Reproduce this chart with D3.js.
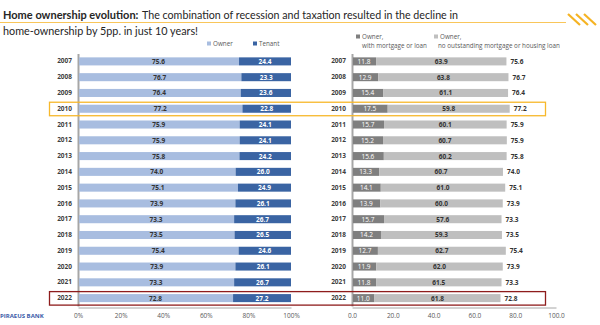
<!DOCTYPE html>
<html><head><meta charset="utf-8">
<script src="https://cdn.jsdelivr.net/npm/d3@7"></script>
<style>
html,body{margin:0;padding:0;background:#fff;}
svg{display:block;font-family:Lato, "Open Sans", sans-serif;}
</style></head>
<body><svg id="c" width="600" height="325"></svg>
<script>
const years = ["2007","2008","2009","2010","2011","2012","2013","2014","2015","2016","2017","2018","2019","2020","2021","2022"];
const owner = [75.6,76.7,76.4,77.2,75.9,75.9,75.8,74.0,75.1,73.9,73.3,73.5,75.4,73.9,73.3,72.8];
const tenant = [24.4,23.3,23.6,22.8,24.1,24.1,24.2,26.0,24.9,26.1,26.7,26.5,24.6,26.1,26.7,27.2];
const withMortgage = [11.8,12.9,15.4,17.5,15.7,15.2,15.6,13.3,14.1,13.9,15.7,14.2,12.7,11.9,11.8,11.0];
const noMortgage = [63.9,63.8,61.1,59.8,60.1,60.7,60.2,60.7,61.0,60.0,57.6,59.3,62.7,62.0,61.5,61.8];
const ownerTotal = [75.6,76.7,76.4,77.2,75.9,75.9,75.8,74.0,75.1,73.9,73.3,73.5,75.4,73.9,73.3,72.8];
const leftTicks = [0,20,40,60,80,100];
const rightTicks = [0,20,40,60,80,100];
const highlights = [{year:"2010", color:"#F7B82B"},{year:"2022", color:"#8E1C1C"}];

const svg = d3.select("#c");
const C = {owner:"#A8BDE0", tenant:"#3A64A3", mort:"#7F7F7F", nomort:"#BFBFBF"};

// Title
svg.append("text").attr("x",3).attr("y",19).attr("font-size",11).attr("fill","#262626").attr("font-weight","bold")
  .text("Home ownership evolution:");
svg.append("text").attr("x",142).attr("y",19).attr("font-size",11.2).attr("fill","#262626")
  .attr("textLength",316).attr("lengthAdjust","spacingAndGlyphs").text("The combination of recession and taxation resulted in the decline in");
svg.append("text").attr("x",3).attr("y",35).attr("font-size",11.2).attr("fill","#262626")
  .attr("textLength",195).attr("lengthAdjust","spacingAndGlyphs")
  .text("home-ownership by 5pp. in just 10 years!");
svg.append("line").attr("x1",0).attr("x2",566).attr("y1",22.5).attr("y2",22.5).attr("stroke","#F9C65A").attr("stroke-width",1);
[0,1,2].forEach(i=>{
  svg.append("line").attr("x1",568+i*8).attr("y1",14).attr("x2",580+i*8).attr("y2",25)
    .attr("stroke","#F5B323").attr("stroke-width",2.2);
});

const y = d3.scaleBand().domain(years).range([53.5,306]).paddingInner(0.49).paddingOuter(0.245);
const xL = d3.scaleLinear().domain([0,100]).range([78,291]);
const xR = d3.scaleLinear().domain([0,100]).range([352,556]);

function axisStyle(g){
  g.select(".domain").attr("stroke","#A6A6A6");
  g.selectAll(".tick line").remove();
  g.selectAll(".tick text").attr("fill","#595959").attr("font-size",6.5).attr("font-family","'Open Sans', sans-serif");
}
svg.append("g").attr("transform","translate(0,307.5)")
  .call(d3.axisBottom(xL).tickValues(leftTicks).tickFormat(d=>d+"%").tickSize(0).tickPadding(6)).call(axisStyle);
svg.append("g").attr("transform","translate(0,307.5)")
  .call(d3.axisBottom(xR).tickValues(rightTicks).tickFormat(d3.format(".1f")).tickSize(0).tickPadding(6)).call(axisStyle);

function yearAxis(x){
  const g = svg.append("g").attr("transform",`translate(${x},0)`)
    .call(d3.axisLeft(y).tickSize(0).tickPadding(6));
  g.select(".domain").attr("stroke","#A6A6A6").attr("stroke-width",2);
  g.selectAll(".tick text").attr("fill","#404040").attr("font-size",6.5).attr("font-weight","bold").attr("font-family","'Open Sans', sans-serif");
}
yearAxis(78);
yearAxis(352);

const bh = y.bandwidth();
const lbl = {"font-size":6.5,"font-weight":"bold","font-family":"'Open Sans', sans-serif","text-anchor":"middle","dominant-baseline":"central"};
function applyAttrs(sel,o){Object.entries(o).forEach(([k,v])=>sel.attr(k,v));return sel;}

years.forEach((yr,i)=>{
  const yy = y(yr), cy = yy+bh/2;
  svg.append("rect").attr("x",xL(0)+1).attr("y",yy).attr("width",xL(owner[i])-xL(0)-1).attr("height",bh).attr("fill",C.owner);
  svg.append("rect").attr("x",xL(owner[i])).attr("y",yy).attr("width",xL(owner[i]+tenant[i])-xL(owner[i])).attr("height",bh).attr("fill",C.tenant);
  applyAttrs(svg.append("text"),lbl).attr("x",(xL(0)+xL(owner[i]))/2).attr("y",cy).attr("fill","#333").text(owner[i].toFixed(1));
  applyAttrs(svg.append("text"),lbl).attr("x",(xL(owner[i])+xL(owner[i]+tenant[i]))/2).attr("y",cy).attr("fill","#fff").text(tenant[i].toFixed(1));
  svg.append("rect").attr("x",xR(0)+1).attr("y",yy).attr("width",xR(withMortgage[i])-xR(0)-1).attr("height",bh).attr("fill",C.mort);
  svg.append("rect").attr("x",xR(withMortgage[i])).attr("y",yy).attr("width",xR(withMortgage[i]+noMortgage[i])-xR(withMortgage[i])).attr("height",bh).attr("fill",C.nomort);
  applyAttrs(svg.append("text"),lbl).attr("x",(xR(0)+xR(withMortgage[i]))/2).attr("y",cy).attr("fill","#fff").attr("font-weight","normal").text(withMortgage[i].toFixed(1));
  applyAttrs(svg.append("text"),lbl).attr("x",(xR(withMortgage[i])+xR(withMortgage[i]+noMortgage[i]))/2).attr("y",cy).attr("fill","#333").text(noMortgage[i].toFixed(1));
  applyAttrs(svg.append("text"),lbl).attr("x",xR(withMortgage[i]+noMortgage[i])+4).attr("text-anchor","start").attr("y",cy).attr("fill","#333").text(ownerTotal[i].toFixed(1));
});

highlights.forEach(h=>{
  const cy = y(h.year)+bh/2;
  svg.append("rect").attr("x",49.5).attr("y",cy-6.5).attr("width",496).attr("height",13.5)
    .attr("fill","none").attr("stroke",h.color).attr("stroke-width",1.3);
});

const lg = {"font-size":6.3,"fill":"#595959","font-family":"'Open Sans', sans-serif"};
svg.append("rect").attr("x",207).attr("y",41.5).attr("width",4).attr("height",4).attr("fill",C.owner);
applyAttrs(svg.append("text"),lg).attr("x",213).attr("y",46).text("Owner");
svg.append("rect").attr("x",253).attr("y",41.5).attr("width",4).attr("height",4).attr("fill",C.tenant);
applyAttrs(svg.append("text"),lg).attr("x",259).attr("y",46).text("Tenant");

svg.append("rect").attr("x",356).attr("y",34.5).attr("width",4).attr("height",4).attr("fill",C.mort);
applyAttrs(svg.append("text"),lg).attr("x",362).attr("y",39).text("Owner,");
applyAttrs(svg.append("text"),lg).attr("x",362).attr("y",48).text("with mortgage or loan");
svg.append("rect").attr("x",434).attr("y",34.5).attr("width",4).attr("height",4).attr("fill",C.nomort);
applyAttrs(svg.append("text"),lg).attr("x",440).attr("y",39).text("Owner,");
applyAttrs(svg.append("text"),lg).attr("x",438).attr("y",48).text("no outstanding mortgage or housing loan");

svg.append("text").attr("x",0).attr("y",318).attr("font-size",6).attr("font-weight","bold")
  .attr("fill","#3B5CA8").attr("font-family","'Open Sans', sans-serif").text("PIRAEUS BANK");
</script></body></html>
